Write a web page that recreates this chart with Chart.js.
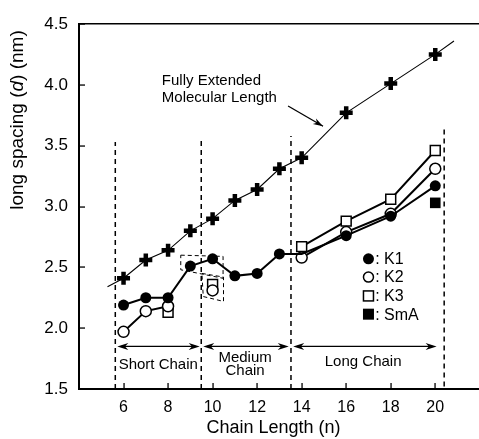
<!DOCTYPE html>
<html lang="en">
<head>
    <meta charset="UTF-8">
    <title>Long spacing vs chain length</title>
    <script src="https://cdn.jsdelivr.net/npm/chart.js"></script>
    <style>
        html, body { margin: 0; padding: 0; background: #fff; overflow: hidden; }
        canvas { display: block; }
    </style>
</head>
<body>
    <canvas id="chart" width="479" height="439"></canvas>

    <script>
        // chain length n and long spacing d (nm)
        const chainN = [6, 7, 8, 9, 10, 11, 12, 13, 14, 16, 18, 20];
        const fullyExtended = [2.41, 2.56, 2.64, 2.80, 2.90, 3.05, 3.14, 3.31, 3.40, 3.77, 4.01, 4.25];
        // the guide line runs a little past the first and last crosses
        const extLineN = [5.28, 6, 7, 8, 9, 10, 11, 12, 13, 14, 16, 18, 20, 20.84];
        const extLineD = [2.34, 2.41, 2.56, 2.64, 2.80, 2.90, 3.05, 3.14, 3.31, 3.40, 3.77, 4.01, 4.25, 4.36];

        const k1N = [6, 7, 8, 9, 10, 11, 12, 13, 14, 16, 18, 20];
        const k1D = [2.19, 2.25, 2.25, 2.51, 2.57, 2.43, 2.45, 2.61, 2.61, 2.76, 2.92, 3.17];
        // null = no connecting line there
        const k2N = [6, 7, 8, 9, 10, 12, 14, 16, 18, 20];
        const k2D = [1.97, 2.14, 2.18, null, 2.31, null, 2.58, 2.79, 2.94, 3.31];
        const k3N = [8, 9, 10, 12, 14, 16, 18, 20];
        const k3D = [2.13, null, 2.36, null, 2.67, 2.88, 3.06, 3.46];
        const smaN = [20];
        const smaD = [3.03];

        // region dividers (dashed verticals)
        const dividerN = [5.63, 9.49, 13.52, 20.40];
        const dividerBottom = [1.5, 1.5, 1.5, 1.52];
        const dividerTop = [3.53, 3.57, 3.58, 3.64];

        // dashed boxes around the n = 9-10 points
        const box1N = [8.57, 10.47, 10.47, 8.57, 8.57];
        const box1D = [2.60, 2.59, 2.41, 2.48, 2.60];
        const box2N = [9.52, 10.49, 10.49, 9.58, 9.52];
        const box2D = [2.45, 2.42, 2.22, 2.26, 2.45];

        // region arrows at d = 1.85
        const regionLabels = ['Short Chain', 'Medium', 'Long Chain'];
        const arrowFrom = [5.72, 9.58, 13.62];
        const arrowTo = [9.42, 13.42, 20.06];

        const xMin = 4, xMax = 21.47, yMin = 1.5, yMax = 4.5;
        const xTicks = [6, 8, 10, 12, 14, 16, 18, 20];
        const yTicks = [1.5, 2.0, 2.5, 3.0, 3.5, 4.0, 4.5];

        const legendNames = [': K1', ': K2', ': K3', ': SmA'];

        const pts = (xs, ys) => xs.map((v, i) => ({ x: v, y: ys[i] }));
        const FONT = 'Liberation Sans, Arial, Helvetica, sans-serif';

        function seg(ctx, x1, y1, x2, y2) {
            ctx.beginPath();
            ctx.moveTo(x1, y1);
            ctx.lineTo(x2, y2);
            ctx.stroke();
        }

        function arrowHead(ctx, x, y, dir, len, half) {
            ctx.beginPath();
            ctx.moveTo(x, y);
            ctx.lineTo(x - dir * len, y - half);
            ctx.lineTo(x - dir * len * 0.7, y);
            ctx.lineTo(x - dir * len, y + half);
            ctx.closePath();
            ctx.fill();
        }

        // plot box and inward ticks, painted as filled rectangles
        function drawFrame(chart) {
            const ctx = chart.ctx;
            const a = chart.chartArea;
            const x = chart.scales.x, y = chart.scales.y;
            const L = Math.round(a.left), T = Math.round(a.top), B = Math.round(a.bottom), W = chart.width;
            ctx.save();
            ctx.globalAlpha = 1;
            ctx.globalCompositeOperation = 'source-over';
            ctx.fillStyle = '#000';
            ctx.fillRect(L - 1, T, 2, B - T + 1);
            ctx.fillRect(L - 1, B - 1, W - L + 1, 2);
            ctx.fillRect(L - 1, T - 1, W - L + 1, 1.5);
            xTicks.forEach(v => {
                const px = Math.round(x.getPixelForValue(v));
                ctx.fillRect(px - 0.6, B - 6, 1.3, 5);
            });
            yTicks.forEach(v => {
                const py = Math.round(y.getPixelForValue(v));
                ctx.fillRect(L + 1, py - 0.6, 5, 1.3);
            });
            ctx.restore();
        }

        const overlay = {
            id: 'overlay',
            afterDraw(chart) {
                const ctx = chart.ctx;
                const x = chart.scales.x, y = chart.scales.y;
                ctx.save();
                ctx.setLineDash([]);
                ctx.strokeStyle = '#000';
                ctx.fillStyle = '#000';

                // region arrows
                ctx.lineWidth = 1.3;
                const ay = y.getPixelForValue(1.85);
                arrowFrom.forEach((f, i) => {
                    const x1 = x.getPixelForValue(f), x2 = x.getPixelForValue(arrowTo[i]);
                    seg(ctx, x1 + 4, ay, x2 - 4, ay);
                    arrowHead(ctx, x2, ay, 1, 11, 3.5);
                    arrowHead(ctx, x1, ay, -1, 11, 3.5);
                });

                // region labels
                ctx.font = '15px ' + FONT;
                ctx.textAlign = 'center';
                ctx.textBaseline = 'middle';
                ctx.fillText(regionLabels[0], x.getPixelForValue(7.56), y.getPixelForValue(1.70));
                ctx.fillText(regionLabels[1], x.getPixelForValue(11.46), y.getPixelForValue(1.76));
                ctx.fillText('Chain', x.getPixelForValue(11.46), y.getPixelForValue(1.645));
                ctx.fillText(regionLabels[2], x.getPixelForValue(16.76), y.getPixelForValue(1.72));

                // annotation for the fully extended length
                ctx.textAlign = 'left';
                ctx.fillText('Fully Extended', x.getPixelForValue(7.72), y.getPixelForValue(4.03));
                ctx.fillText('Molecular Length', x.getPixelForValue(7.72), y.getPixelForValue(3.89));
                const p1x = x.getPixelForValue(13.39), p1y = y.getPixelForValue(3.826);
                const p2x = x.getPixelForValue(14.96), p2y = y.getPixelForValue(3.66);
                seg(ctx, p1x, p1y, p2x, p2y);
                ctx.save();
                ctx.translate(p2x, p2y);
                ctx.rotate(Math.atan2(p2y - p1y, p2x - p1x));
                arrowHead(ctx, 0, 0, 1, 10, 3.2);
                ctx.restore();

                // legend
                const lx = x.getPixelForValue(17.0), tx = x.getPixelForValue(17.3);
                const rows = [2.57, 2.42, 2.265, 2.115].map(v => y.getPixelForValue(v));
                ctx.lineWidth = 1.5;
                ctx.beginPath(); ctx.arc(lx, rows[0], 5.5, 0, Math.PI * 2); ctx.fill();
                ctx.fillStyle = '#fff';
                ctx.beginPath(); ctx.arc(lx, rows[1], 5, 0, Math.PI * 2); ctx.fill(); ctx.stroke();
                ctx.fillRect(lx - 5, rows[2] - 5, 10, 10); ctx.strokeRect(lx - 5, rows[2] - 5, 10, 10);
                ctx.fillStyle = '#000';
                ctx.fillRect(lx - 5.5, rows[3] - 5.5, 11, 11);
                ctx.font = '16px ' + FONT;
                legendNames.forEach((t, i) => ctx.fillText(t, tx, rows[i] + 1));

                // y axis title with italic d
                ctx.translate(18, 120);
                ctx.rotate(-Math.PI / 2);
                const parts = [['long spacing (', ''], ['d', 'italic '], [') (nm)', '']];
                let total = 0;
                parts.forEach(p => { ctx.font = p[1] + '19px ' + FONT; total += ctx.measureText(p[0]).width; });
                let cx = -total / 2;
                parts.forEach(p => {
                    ctx.font = p[1] + '19px ' + FONT;
                    ctx.fillText(p[0], cx, 0);
                    cx += ctx.measureText(p[0]).width;
                });
                ctx.restore();

                drawFrame(chart);
            }
        };

        const datasets = [
            {
                data: pts(smaN, smaD), showLine: false,
                pointStyle: 'rect', pointRadius: 7.5, backgroundColor: '#000', borderColor: '#000', borderWidth: 0
            },
            {
                data: pts(k1N, k1D), borderColor: '#000', borderWidth: 2,
                pointStyle: 'circle', pointRadius: k1N.map(n => n === 14 ? 0 : 5.5),
                backgroundColor: '#000', pointBorderWidth: 0
            },
            {
                data: pts(k2N, k2D), borderColor: '#000', borderWidth: 2, spanGaps: false,
                pointStyle: 'circle', pointRadius: 5.5, backgroundColor: '#fff', pointBorderWidth: 1.5
            },
            {
                data: pts(k3N, k3D), borderColor: '#000', borderWidth: 2, spanGaps: false,
                pointStyle: 'rect', pointRadius: 7, backgroundColor: '#fff', pointBorderWidth: 1.5
            },
            {
                data: pts(chainN, fullyExtended), showLine: false,
                pointStyle: 'cross', pointRadius: 6.5, borderColor: '#000', pointBorderWidth: 4.5
            },
            {
                data: pts(extLineN, extLineD), borderColor: '#000', borderWidth: 1.1, pointRadius: 0
            },
            {
                data: pts(box1N, box1D), borderColor: '#000', borderWidth: 1, borderDash: [4, 3], pointRadius: 0
            },
            {
                data: pts(box2N, box2D), borderColor: '#000', borderWidth: 1, borderDash: [4, 3], pointRadius: 0
            }
        ];
        dividerN.forEach((n, i) => {
            datasets.push({
                data: [{ x: n, y: dividerBottom[i] }, { x: n, y: dividerTop[i] }],
                borderColor: '#000', borderWidth: 1.5, borderDash: [5, 4], pointRadius: 0
            });
        });

        new Chart(document.getElementById('chart'), {
            type: 'line',
            data: { datasets },
            options: {
                responsive: false,
                animation: false,
                layout: { padding: { top: 24, right: 0, left: 0, bottom: 0 } },
                plugins: { legend: { display: false }, tooltip: { enabled: false } },
                elements: { line: { tension: 0 } },
                scales: {
                    x: {
                        type: 'linear', min: xMin, max: xMax,
                        afterBuildTicks: s => { s.ticks = xTicks.map(v => ({ value: v })); },
                        afterFit: s => { s.height = 50; },
                        grid: { display: false },
                        border: { display: false },
                        ticks: { color: '#000', font: { size: 16, family: FONT }, padding: 1, maxRotation: 0 },
                        title: {
                            display: true, text: 'Chain Length (n)', color: '#000',
                            font: { size: 18, family: FONT }, padding: { top: 0, bottom: 0 }
                        }
                    },
                    y: {
                        min: yMin, max: yMax,
                        afterBuildTicks: s => { s.ticks = yTicks.map(v => ({ value: v })); },
                        afterFit: s => { s.width = 79; },
                        grid: { display: false },
                        border: { display: false },
                        ticks: { color: '#000', font: { size: 17, family: FONT }, padding: 3, callback: v => v.toFixed(1) }
                    }
                }
            },
            plugins: [overlay]
        });
    </script>
</body>
</html>
